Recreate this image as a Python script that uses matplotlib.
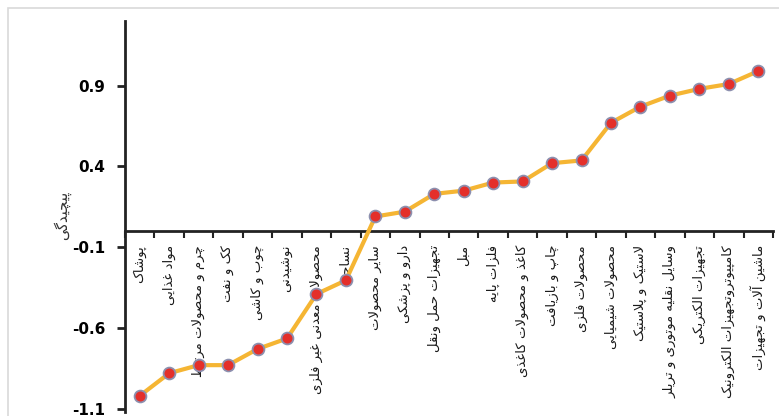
import matplotlib
matplotlib.use("Agg")
import matplotlib.pyplot as plt
from matplotlib.patches import Rectangle

plt.rcParams['axes.unicode_minus'] = False

# sectors, ordered by complexity
sectors = [
    "پوشاک", "مواد غذایی", "چرم و محصولات مرتبط", "کک و نفت", "چوب و کاشی",
    "نوشیدنی", "محصولات معدنی غیر فلزی", "نساجی", "سایر محصولات",
    "دارو و پزشکی", "تجهیزات حمل ونقل", "مبل", "فلزات پایه",
    "کاغذ و محصولات کاغذی", "چاپ و بازیافت", "محصولات فلزی",
    "محصولات شیمیایی", "لاستیک و پلاستیک", "وسایل نقلیه موتوری و تریلر",
    "تجهیزات الکتریکی", "کامپیوتروتجهیزات الکترونیک", "ماشین آلات و تجهیزات",
]
complexity = [
    -1.02, -0.88, -0.83, -0.83, -0.73, -0.665, -0.39, -0.305, 0.09,
    0.12, 0.23, 0.25, 0.30, 0.307, 0.42, 0.437, 0.67, 0.77, 0.838,
    0.88, 0.91, 0.99,
]
yticks = [-1.1, -0.6, -0.1, 0.4, 0.9]
ylabel = "پیچیدگی"

# --- minimal Persian shaping (matplotlib has no bidi/joining) ---
# forms: isolated, final, initial, medial
FORMS = {
    'ا': (0xFE8D, 0xFE8E, None, None), 'آ': (0xFE81, 0xFE82, None, None),
    'ب': (0xFE8F, 0xFE90, 0xFE91, 0xFE92), 'پ': (0xFB56, 0xFB57, 0xFB58, 0xFB59),
    'ت': (0xFE95, 0xFE96, 0xFE97, 0xFE98), 'ث': (0xFE99, 0xFE9A, 0xFE9B, 0xFE9C),
    'ج': (0xFE9D, 0xFE9E, 0xFE9F, 0xFEA0), 'چ': (0xFB7A, 0xFB7B, 0xFB7C, 0xFB7D),
    'ح': (0xFEA1, 0xFEA2, 0xFEA3, 0xFEA4), 'خ': (0xFEA5, 0xFEA6, 0xFEA7, 0xFEA8),
    'د': (0xFEA9, 0xFEAA, None, None), 'ذ': (0xFEAB, 0xFEAC, None, None),
    'ر': (0xFEAD, 0xFEAE, None, None), 'ز': (0xFEAF, 0xFEB0, None, None),
    'ژ': (0xFB8A, 0xFB8B, None, None),
    'س': (0xFEB1, 0xFEB2, 0xFEB3, 0xFEB4), 'ش': (0xFEB5, 0xFEB6, 0xFEB7, 0xFEB8),
    'ص': (0xFEB9, 0xFEBA, 0xFEBB, 0xFEBC), 'ض': (0xFEBD, 0xFEBE, 0xFEBF, 0xFEC0),
    'ط': (0xFEC1, 0xFEC2, 0xFEC3, 0xFEC4), 'ظ': (0xFEC5, 0xFEC6, 0xFEC7, 0xFEC8),
    'ع': (0xFEC9, 0xFECA, 0xFECB, 0xFECC), 'غ': (0xFECD, 0xFECE, 0xFECF, 0xFED0),
    'ف': (0xFED1, 0xFED2, 0xFED3, 0xFED4), 'ق': (0xFED5, 0xFED6, 0xFED7, 0xFED8),
    'ک': (0xFB8E, 0xFB8F, 0xFB90, 0xFB91), 'گ': (0xFB92, 0xFB93, 0xFB94, 0xFB95),
    'ل': (0xFEDD, 0xFEDE, 0xFEDF, 0xFEE0), 'م': (0xFEE1, 0xFEE2, 0xFEE3, 0xFEE4),
    'ن': (0xFEE5, 0xFEE6, 0xFEE7, 0xFEE8), 'و': (0xFEED, 0xFEEE, None, None),
    'ه': (0xFEE9, 0xFEEA, 0xFEEB, 0xFEEC), 'ی': (0xFBFC, 0xFBFD, 0xFBFE, 0xFBFF),
    'ئ': (0xFE89, 0xFE8A, 0xFE8B, 0xFE8C),
}
LAM_ALEF = {'ا': (0xFEFB, 0xFEFC), 'آ': (0xFEF5, 0xFEF6)}


def joins_next(ch):
    return ch in FORMS and FORMS[ch][2] is not None


def shape(text):
    chars = list(text)
    out = []
    i = 0
    while i < len(chars):
        ch = chars[i]
        prev = chars[i - 1] if i > 0 else None
        nxt = chars[i + 1] if i + 1 < len(chars) else None
        if ch not in FORMS:
            out.append(ch)
            i += 1
            continue
        p = prev is not None and joins_next(prev)
        if ch == 'ل' and nxt in LAM_ALEF:
            out.append(chr(LAM_ALEF[nxt][1 if p else 0]))
            i += 2
            continue
        n = joins_next(ch) and nxt in FORMS
        iso, fin, ini, med = FORMS[ch]
        if p and n:
            code = med
        elif p:
            code = fin
        elif n:
            code = ini
        else:
            code = iso
        out.append(chr(code))
        i += 1
    return ''.join(reversed(out))


fig = plt.figure(figsize=(7.79, 4.16), dpi=100)
fig.patches.append(Rectangle((8 / 779, -0.1), 1.2, 1.1 - 8 / 416,
                             transform=fig.transFigure, fill=False,
                             edgecolor='#d9d9d9', linewidth=1.2))
ax = fig.add_axes([125 / 779, 4 / 416, 648 / 779, 391 / 416])

x = list(range(len(sectors)))
ax.plot(x, complexity, color='#f5b533', linewidth=3, zorder=3,
        marker='o', markersize=8.5, markerfacecolor='#e42f2a',
        markeredgecolor='#8c8fae', markeredgewidth=1.3)

ax.set_xlim(-0.5, len(sectors) - 0.5)
ax.set_ylim(-1.12, 1.30)

for side in ('top', 'right'):
    ax.spines[side].set_visible(False)
ax.spines['bottom'].set_position(('data', 0))
for side in ('left', 'bottom'):
    ax.spines[side].set_linewidth(2)
    ax.spines[side].set_color('#222222')

ax.set_xticks([i + 0.5 for i in range(-1, len(sectors))], minor=True)
ax.set_xticks(x)
ax.set_xticklabels([shape(s) for s in sectors], rotation=90, va='top',
                   ha='center', fontsize=9.5, family='DejaVu Sans',
                   color='#1a1a1a')
ax.tick_params(axis='x', which='major', length=0, pad=10)
ax.tick_params(axis='x', which='minor', length=5, width=1.5,
               direction='out', color='#222222')

ax.set_yticks(yticks)
ax.set_yticklabels([f"{v:.1f}" for v in yticks], fontsize=11,
                   fontweight='bold', family='DejaVu Sans')
ax.tick_params(axis='y', length=6, width=2, color='#222222', pad=8)

fig.text(62 / 779, 1 - 215 / 416, shape(ylabel), rotation=90,
         ha='center', va='center', fontsize=10.5, color='#333333')

fig.savefig('out.png', dpi=100)
